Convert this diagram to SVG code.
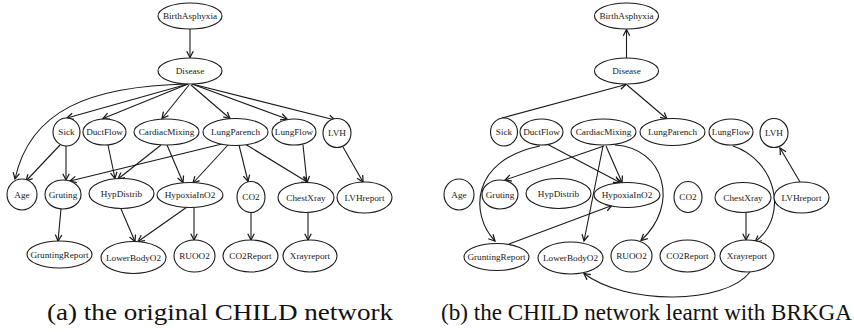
<svg xmlns="http://www.w3.org/2000/svg" width="854" height="332" viewBox="0 0 854 332">
  <style>
    .n ellipse { fill: #fff; stroke: #1a1a1a; stroke-width: 1.1; }
    .n text { font-family: "Liberation Serif", "Times New Roman", serif; font-size: 9.2px; fill: #1a1a1a; text-anchor: middle; dominant-baseline: central; }
    .e path { fill: none; stroke: #1a1a1a; stroke-width: 1.1; marker-end: url(#arr); }
    .cap { font-family: "Liberation Serif", "Times New Roman", serif; font-size: 23px; fill: #111; }
  </style>
  <defs>
    <marker id="arr" markerUnits="userSpaceOnUse" markerWidth="10" markerHeight="10" refX="0" refY="0" viewBox="-6 -4 7 8" orient="auto">
      <path d="M-5,-2.6 L0,0 L-5,2.6" fill="none" stroke="#1a1a1a" stroke-width="1"/>
    </marker>
  </defs>
  <rect width="854" height="332" fill="#fff"/>

  <!-- (a) original CHILD network -->
  <g id="edges-a" class="e">
    <path d="M190,29 L190,57.5"/>
    <path d="M188,84 C90,86 30,110 15,179"/>
    <path d="M188,84 L67,118"/>
    <path d="M188,84 L103,118.5"/>
    <path d="M189,85 L162,118.5"/>
    <path d="M191,85 L230,118.5"/>
    <path d="M192,84 L287,119"/>
    <path d="M192,84 L335,120"/>
    <path d="M60,145 L26,181"/>
    <path d="M66,146 L66,180"/>
    <path d="M108,145 L115,178.5"/>
    <path d="M161,145 L118,179"/>
    <path d="M167,145 L183,182.5"/>
    <path d="M222,144 L70,181"/>
    <path d="M228,145 L193,183"/>
    <path d="M239,145 L248,181.5"/>
    <path d="M245,144 L308,182.5"/>
    <path d="M303,145 L307,182.5"/>
    <path d="M343,147 L363,182"/>
    <path d="M61,209 L58,241"/>
    <path d="M121,209 L135,241.5"/>
    <path d="M187,207 L138,241.5"/>
    <path d="M194,207 L194,240"/>
    <path d="M251,212.5 L251,240"/>
    <path d="M308,212.5 L308,240"/>
  </g>
  <g id="a-BirthAsphyxia" class="n"><ellipse cx="190" cy="16" rx="32" ry="13"/><text x="190" y="16">BirthAsphyxia</text></g>
  <g id="a-Disease" class="n"><ellipse cx="190" cy="71" rx="32" ry="13"/><text x="190" y="71">Disease</text></g>
  <g id="a-Sick" class="n"><ellipse cx="66.5" cy="132" rx="13.5" ry="14"/><text x="66.5" y="132">Sick</text></g>
  <g id="a-DuctFlow" class="n"><ellipse cx="104.5" cy="132" rx="21.5" ry="13"/><text x="104.5" y="132">DuctFlow</text></g>
  <g id="a-CardiacMixing" class="n"><ellipse cx="166.5" cy="132" rx="32.5" ry="13"/><text x="166.5" y="132">CardiacMixing</text></g>
  <g id="a-LungParench" class="n"><ellipse cx="235.5" cy="132" rx="32.5" ry="13.5"/><text x="235.5" y="132">LungParench</text></g>
  <g id="a-LungFlow" class="n"><ellipse cx="294" cy="132" rx="22" ry="13"/><text x="294" y="132">LungFlow</text></g>
  <g id="a-LVH" class="n"><ellipse cx="337" cy="133" rx="14" ry="14.5"/><text x="337" y="133">LVH</text></g>
  <g id="a-Age" class="n"><ellipse cx="22" cy="194.5" rx="15" ry="15.5"/><text x="22" y="194.5">Age</text></g>
  <g id="a-Gruting" class="n"><ellipse cx="63" cy="194.5" rx="18" ry="14.5"/><text x="63" y="194.5">Gruting</text></g>
  <g id="a-HypDistrib" class="n"><ellipse cx="121.5" cy="193.5" rx="32.5" ry="15"/><text x="121.5" y="193.5">HypDistrib</text></g>
  <g id="a-HypoxiaInO2" class="n"><ellipse cx="190" cy="195" rx="33" ry="12.5"/><text x="190" y="195">HypoxiaInO2</text></g>
  <g id="a-CO2" class="n"><ellipse cx="251" cy="197" rx="14" ry="15.5"/><text x="251" y="197">CO2</text></g>
  <g id="a-ChestXray" class="n"><ellipse cx="306" cy="197.5" rx="28" ry="15"/><text x="306" y="197.5">ChestXray</text></g>
  <g id="a-LVHreport" class="n"><ellipse cx="364.5" cy="197.5" rx="27.5" ry="15.5"/><text x="364.5" y="197.5">LVHreport</text></g>
  <g id="a-GruntingReport" class="n"><ellipse cx="59.5" cy="254.5" rx="32.5" ry="13.5"/><text x="59.5" y="254.5">GruntingReport</text></g>
  <g id="a-LowerBodyO2" class="n"><ellipse cx="133.5" cy="257.5" rx="32.5" ry="16"/><text x="133.5" y="257.5">LowerBodyO2</text></g>
  <g id="a-RUOO2" class="n"><ellipse cx="194.5" cy="256" rx="20.5" ry="16"/><text x="194.5" y="256">RUOO2</text></g>
  <g id="a-CO2Report" class="n"><ellipse cx="250.5" cy="256" rx="27.5" ry="16"/><text x="250.5" y="256">CO2Report</text></g>
  <g id="a-Xrayreport" class="n"><ellipse cx="310" cy="256" rx="27" ry="16"/><text x="310" y="256">Xrayreport</text></g>

  <!-- (b) network learnt with BRKGA -->
  <g id="edges-b" class="e">
    <path d="M626.5,58 L626.5,29.5"/>
    <path d="M502,118 L626,84.5"/>
    <path d="M627,85 L667,119"/>
    <path d="M545,143 L620,182.5"/>
    <path d="M604,146 L505,180"/>
    <path d="M606,146 L622,182.5"/>
    <path d="M603,146 L584,241"/>
    <path d="M540,146 C470,160 470,215 495,241"/>
    <path d="M615,145 C665,148 680,205 641,240.5"/>
    <path d="M509,244 L612,205.5"/>
    <path d="M733,146 C775,160 790,215 755,242"/>
    <path d="M746,212.5 L746,240"/>
    <path d="M800,182 L780,148"/>
    <path d="M750,272 C725,305 625,305 584,273.5"/>
  </g>
  <g id="b-BirthAsphyxia" class="n"><ellipse cx="626.5" cy="16" rx="32" ry="13"/><text x="626.5" y="16">BirthAsphyxia</text></g>
  <g id="b-Disease" class="n"><ellipse cx="626.5" cy="71" rx="32" ry="13"/><text x="626.5" y="71">Disease</text></g>
  <g id="b-Sick" class="n"><ellipse cx="504" cy="132" rx="13.5" ry="14"/><text x="504" y="132">Sick</text></g>
  <g id="b-DuctFlow" class="n"><ellipse cx="541.5" cy="132" rx="21.5" ry="13"/><text x="541.5" y="132">DuctFlow</text></g>
  <g id="b-CardiacMixing" class="n"><ellipse cx="603.5" cy="132" rx="32.5" ry="13"/><text x="603.5" y="132">CardiacMixing</text></g>
  <g id="b-LungParench" class="n"><ellipse cx="672.5" cy="132" rx="32.5" ry="13.5"/><text x="672.5" y="132">LungParench</text></g>
  <g id="b-LungFlow" class="n"><ellipse cx="731" cy="132" rx="22" ry="13"/><text x="731" y="132">LungFlow</text></g>
  <g id="b-LVH" class="n"><ellipse cx="774" cy="133" rx="14" ry="14.5"/><text x="774" y="133">LVH</text></g>
  <g id="b-Age" class="n"><ellipse cx="459" cy="194.5" rx="15" ry="15.5"/><text x="459" y="194.5">Age</text></g>
  <g id="b-Gruting" class="n"><ellipse cx="500" cy="194.5" rx="18" ry="14.5"/><text x="500" y="194.5">Gruting</text></g>
  <g id="b-HypDistrib" class="n"><ellipse cx="558.5" cy="193.5" rx="32.5" ry="15"/><text x="558.5" y="193.5">HypDistrib</text></g>
  <g id="b-HypoxiaInO2" class="n"><ellipse cx="627" cy="195" rx="33" ry="12.5"/><text x="627" y="195">HypoxiaInO2</text></g>
  <g id="b-CO2" class="n"><ellipse cx="688" cy="197" rx="14" ry="15.5"/><text x="688" y="197">CO2</text></g>
  <g id="b-ChestXray" class="n"><ellipse cx="743" cy="197.5" rx="28" ry="15"/><text x="743" y="197.5">ChestXray</text></g>
  <g id="b-LVHreport" class="n"><ellipse cx="801.5" cy="197.5" rx="27.5" ry="15.5"/><text x="801.5" y="197.5">LVHreport</text></g>
  <g id="b-GruntingReport" class="n"><ellipse cx="496.5" cy="257" rx="32.5" ry="13.5"/><text x="496.5" y="257">GruntingReport</text></g>
  <g id="b-LowerBodyO2" class="n"><ellipse cx="570.5" cy="258" rx="32.5" ry="16"/><text x="570.5" y="258">LowerBodyO2</text></g>
  <g id="b-RUOO2" class="n"><ellipse cx="631.5" cy="256" rx="20.5" ry="16"/><text x="631.5" y="256">RUOO2</text></g>
  <g id="b-CO2Report" class="n"><ellipse cx="687.5" cy="256" rx="27.5" ry="16"/><text x="687.5" y="256">CO2Report</text></g>
  <g id="b-Xrayreport" class="n"><ellipse cx="747" cy="256" rx="27" ry="16"/><text x="747" y="256">Xrayreport</text></g>

  <text class="cap" x="47" y="320" textLength="346" lengthAdjust="spacingAndGlyphs">(a) the original CHILD network</text>
  <text class="cap" x="441" y="320" textLength="411" lengthAdjust="spacingAndGlyphs">(b) the CHILD network learnt with BRKGA</text>
</svg>
